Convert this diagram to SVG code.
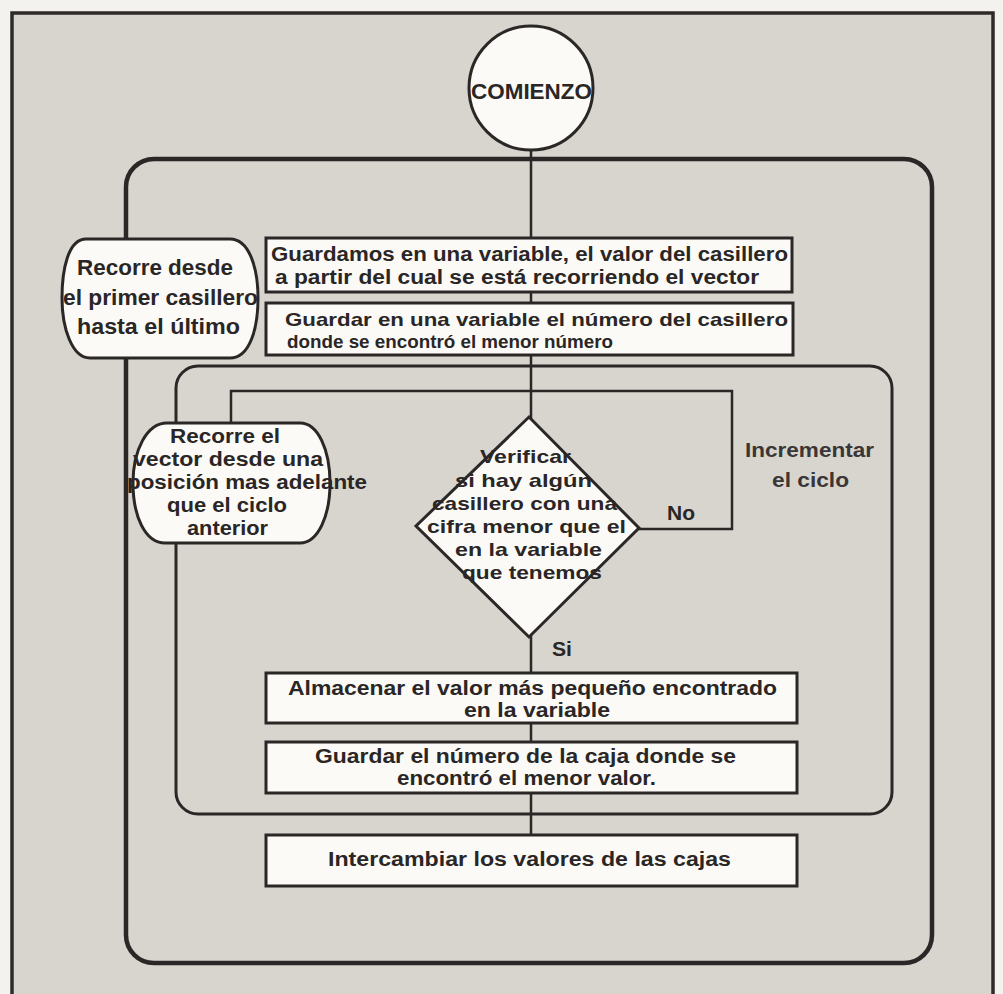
<svg xmlns="http://www.w3.org/2000/svg" width="1003" height="994" viewBox="0 0 1003 994">
  <style>
    .ln { fill: none; stroke: #2b2727; stroke-linecap: square; }
    .node { fill: #fbfaf6; stroke: #2b2727; stroke-width: 3; }
    text { font-family: "Liberation Sans", Arial, sans-serif; font-weight: bold; fill: #2a2626; }
    .t19 { font-size: 19px; }
    .t20 { font-size: 20px; }
    .t21 { font-size: 21px; }
    .t22 { font-size: 22px; }
    .soft { fill: #3a3636; }
  </style>

  <!-- page and frame -->
  <rect x="0" y="0" width="1003" height="994" fill="#f4f2ee"/>
  <rect x="12" y="13" width="981" height="1000" fill="#d8d5cf" stroke="#2e2a2a" stroke-width="3.5"/>

  <!-- connectors -->
  <g id="connectors">
    <!-- main flow line -->
    <line class="ln" x1="531" y1="150" x2="531" y2="835" stroke-width="2.5"/>
    <!-- outer loop: walk every cell -->
    <rect class="ln" x="126" y="159" width="806" height="804" rx="28" stroke-width="4.5"/>
    <!-- inner loop: scan the rest of the vector -->
    <rect class="ln" x="176" y="366" width="716" height="448" rx="22" stroke-width="3"/>
    <!-- "No" branch back to the inner loop -->
    <path class="ln" d="M231 423 V391 H732 V529 H639" stroke-width="2.5"/>
  </g>

  <g id="start">
    <circle class="node" cx="531" cy="88" r="62"/>
    <text class="t22" x="471" y="99" textLength="121" lengthAdjust="spacingAndGlyphs">COMIENZO</text>
  </g>

  <g id="outer-loop">
    <path class="node" d="M86 239 H230 C250 239 258 270 258 298 C258 328 250 358 230 358 H90 C72 358 62 328 62 298 C62 270 68 239 86 239 Z"/>
    <text class="t22" x="77" y="275" textLength="156" lengthAdjust="spacingAndGlyphs">Recorre desde</text>
    <text class="t22" x="63" y="305" textLength="195" lengthAdjust="spacingAndGlyphs">el primer casillero</text>
    <text class="t22" x="77" y="334" textLength="163" lengthAdjust="spacingAndGlyphs">hasta el último</text>
  </g>

  <g id="save-value">
    <rect class="node" x="266" y="238" width="526" height="54"/>
    <text class="t20" x="271" y="261" textLength="517" lengthAdjust="spacingAndGlyphs">Guardamos en una variable, el valor del casillero</text>
    <text class="t20" x="275" y="284" textLength="484" lengthAdjust="spacingAndGlyphs">a partir del cual se está recorriendo el vector</text>
  </g>

  <g id="save-index">
    <rect class="node" x="266" y="303" width="527" height="52"/>
    <text class="t19" x="285" y="326" textLength="503" lengthAdjust="spacingAndGlyphs">Guardar en una variable el número del casillero</text>
    <text class="t19" x="287" y="348" textLength="326" lengthAdjust="spacingAndGlyphs">donde se encontró el menor número</text>
  </g>

  <g id="inner-loop">
    <path class="node" d="M167 423 H300 C318 423 330 450 330 483 C330 516 318 543 300 543 H165 C145 543 133 516 133 483 C133 450 147 423 167 423 Z"/>
    <text class="t20" x="170" y="443" textLength="110" lengthAdjust="spacingAndGlyphs">Recorre el</text>
    <text class="t20" x="133" y="466" textLength="190" lengthAdjust="spacingAndGlyphs">vector desde una</text>
    <text class="t20" x="127" y="489" textLength="240" lengthAdjust="spacingAndGlyphs">posición mas adelante</text>
    <text class="t20" x="167" y="512" textLength="120" lengthAdjust="spacingAndGlyphs">que el ciclo</text>
    <text class="t20" x="187" y="535" textLength="81" lengthAdjust="spacingAndGlyphs">anterior</text>
  </g>

  <g id="check">
    <polygon class="node" points="529,417 639,528 529,637 416,526"/>
    <text class="t19" x="480" y="463" textLength="91" lengthAdjust="spacingAndGlyphs">Verificar</text>
    <text class="t19" x="455" y="487" textLength="137" lengthAdjust="spacingAndGlyphs">si hay algún</text>
    <text class="t19" x="432" y="510" textLength="185" lengthAdjust="spacingAndGlyphs">casillero con una</text>
    <text class="t19" x="427" y="533" textLength="199" lengthAdjust="spacingAndGlyphs">cifra menor que el</text>
    <text class="t19" x="455" y="556" textLength="147" lengthAdjust="spacingAndGlyphs">en la variable</text>
    <text class="t19" x="462" y="579" textLength="140" lengthAdjust="spacingAndGlyphs">que tenemos</text>
  </g>

  <g id="labels">
    <text class="t20" x="667" y="520" textLength="28" lengthAdjust="spacingAndGlyphs">No</text>
    <text class="t20" x="552" y="656" textLength="20" lengthAdjust="spacingAndGlyphs">Si</text>
    <text class="t20 soft" x="745" y="457" textLength="129" lengthAdjust="spacingAndGlyphs">Incrementar</text>
    <text class="t20 soft" x="772" y="487" textLength="77" lengthAdjust="spacingAndGlyphs">el ciclo</text>
  </g>

  <g id="store-min">
    <rect class="node" x="266" y="673" width="531" height="50"/>
    <text class="t20" x="288" y="695" textLength="489" lengthAdjust="spacingAndGlyphs">Almacenar el valor más pequeño encontrado</text>
    <text class="t20" x="464" y="717" textLength="146" lengthAdjust="spacingAndGlyphs">en la variable</text>
  </g>

  <g id="store-box">
    <rect class="node" x="266" y="742" width="531" height="51"/>
    <text class="t20" x="315" y="763" textLength="421" lengthAdjust="spacingAndGlyphs">Guardar el número de la caja donde se</text>
    <text class="t20" x="397" y="785" textLength="259" lengthAdjust="spacingAndGlyphs">encontró el menor valor.</text>
  </g>

  <g id="swap">
    <rect class="node" x="266" y="835" width="531" height="51"/>
    <text class="t20" x="328" y="866" textLength="403" lengthAdjust="spacingAndGlyphs">Intercambiar los valores de las cajas</text>
  </g>
</svg>
